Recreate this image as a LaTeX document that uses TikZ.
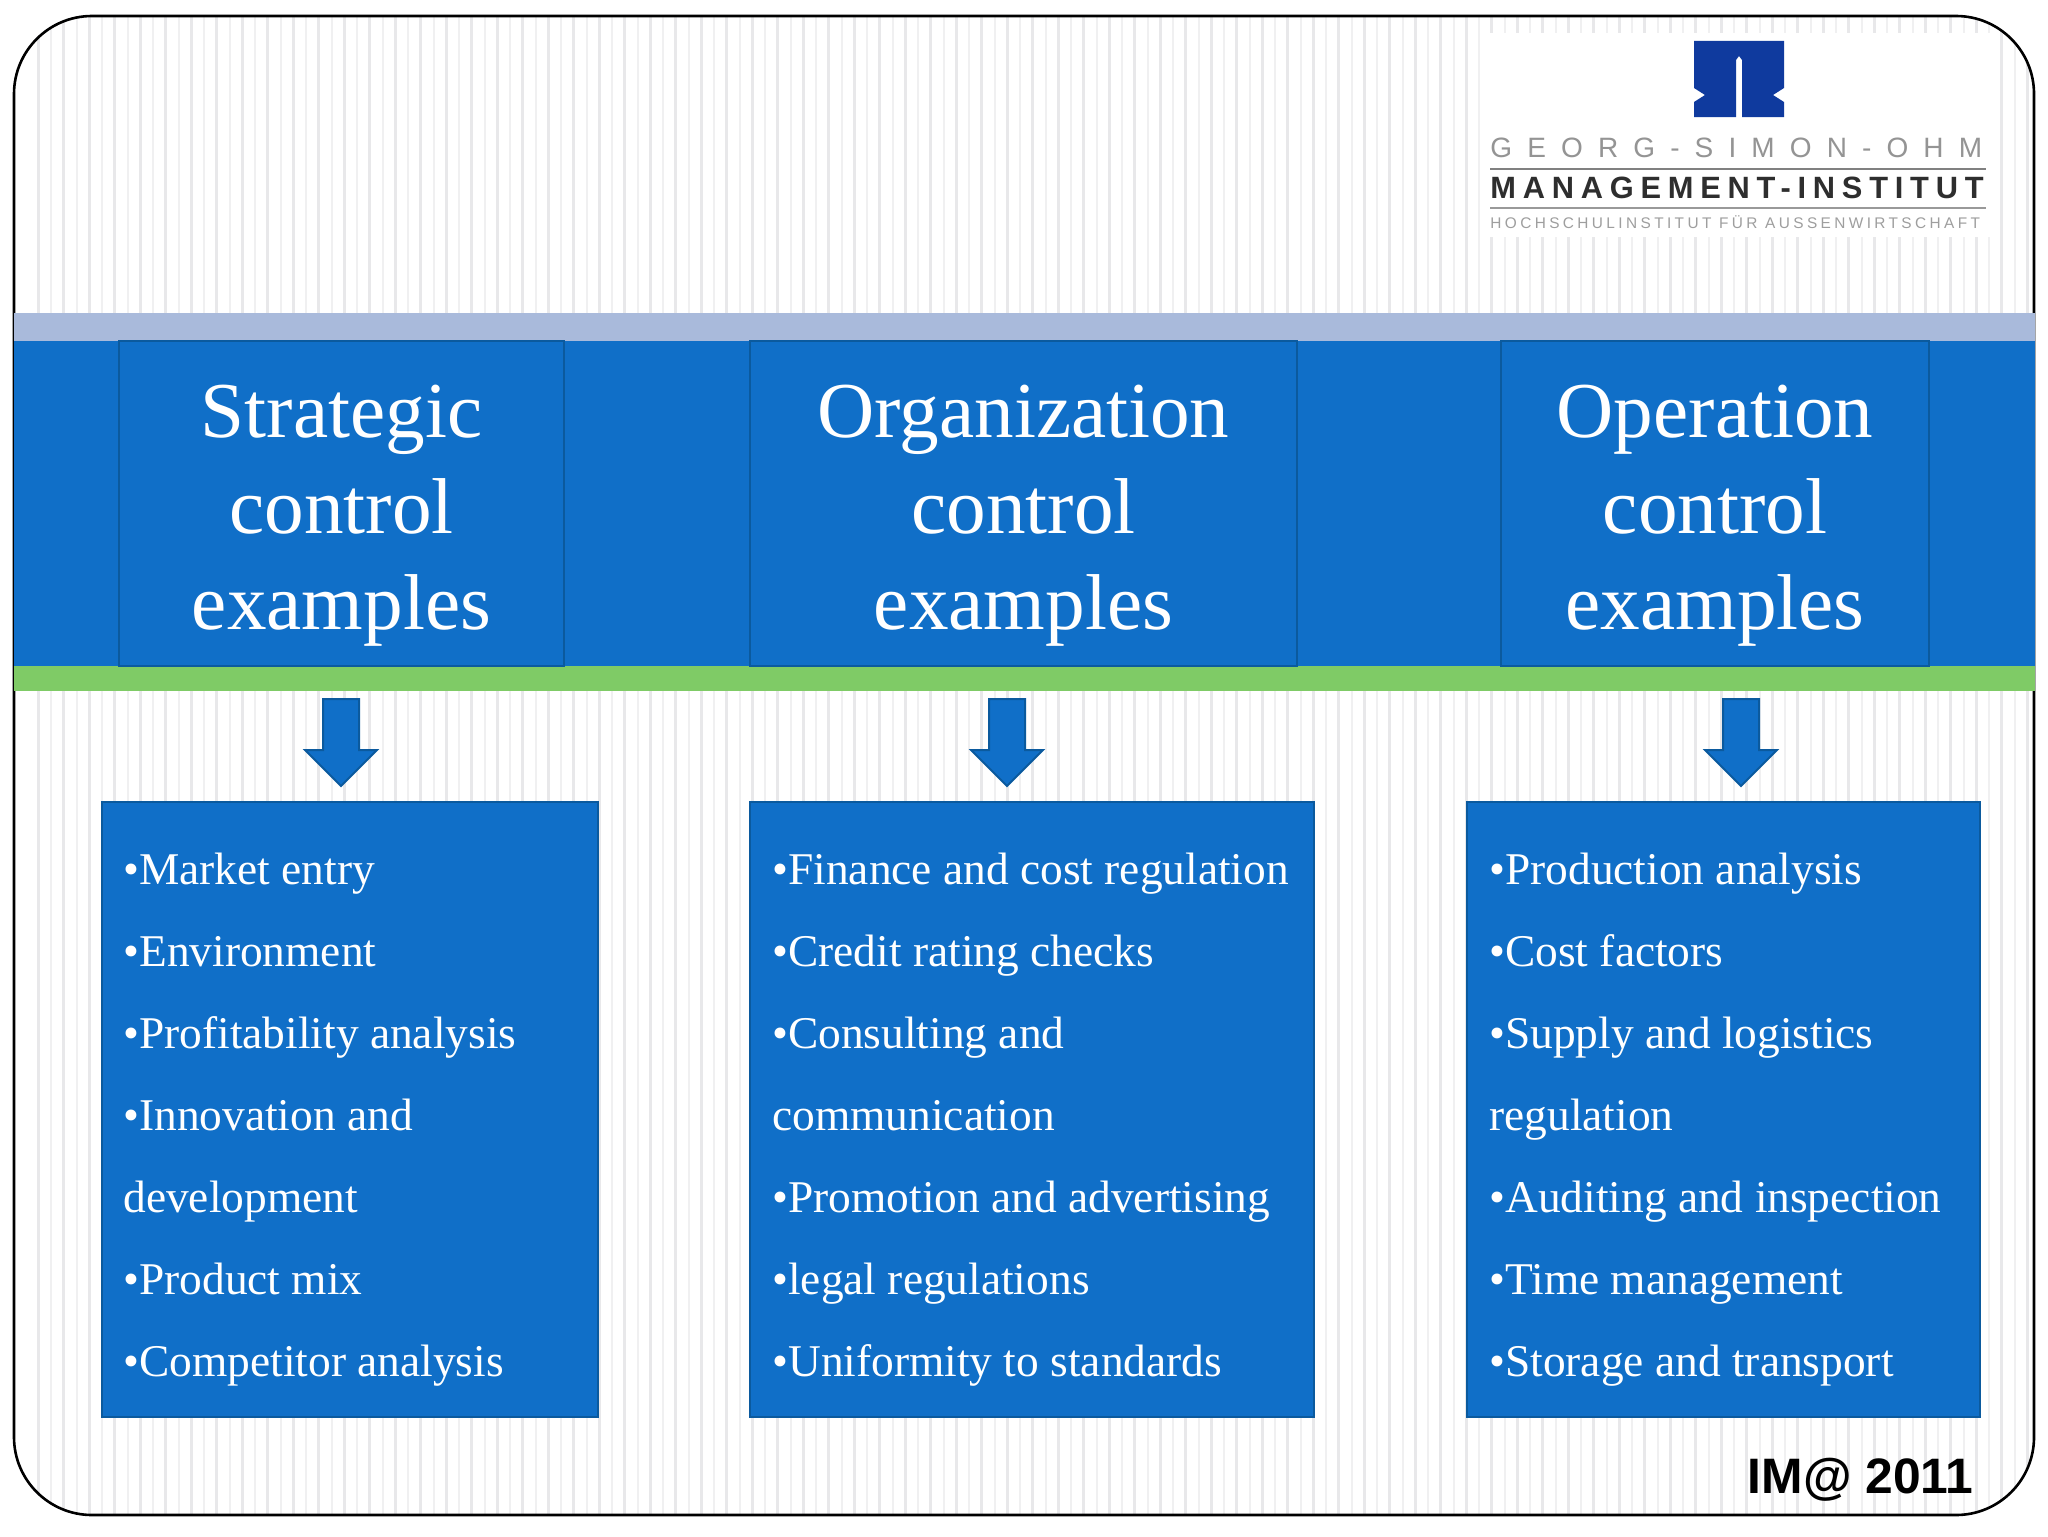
\documentclass[tikz,border=0pt]{standalone}
\usepackage{fontspec}
\setmainfont{Liberation Serif}
\newfontfamily\arialfont{Liberation Sans}
\definecolor{boxblue}{HTML}{106FC8}
\definecolor{boxedge}{HTML}{0B5A9E}
\definecolor{paleband}{HTML}{A9BADB}
\definecolor{greenband}{HTML}{7FCB66}
\definecolor{logoblue}{HTML}{0F3A9E}
\definecolor{stripea}{HTML}{E8E8EA}
\definecolor{stripeb}{HTML}{F0F0F1}
\tikzset{
  headbox/.style={draw=boxedge,line width=1pt,fill=boxblue,inner sep=0pt},
  headtext/.style={text=white,inner sep=0pt,align=center,
    font=\fontsize{39.6}{48}\selectfont},
  listbox/.style={draw=boxedge,line width=1pt,fill=boxblue,inner sep=0pt},
  listtext/.style={text=white,inner sep=0pt,align=left,anchor=north west,
    font=\fontsize{22.7}{41}\selectfont},
  downarrow/.style={draw=boxedge,line width=1pt,fill=boxblue,line join=miter},
  logotext/.style={inner sep=0pt,anchor=base west},
}
\newcommand{\DownArrowAt}[1]{%
  \draw[downarrow] (#1-18,699) -- (#1+18,699) -- (#1+18,750) -- (#1+36,750)
    -- (#1,786) -- (#1-36,750) -- (#1-18,750) -- cycle;}
\begin{document}
\begin{tikzpicture}[x=0.5pt,y=-0.5pt]
\useasboundingbox (0,0) rectangle (2048,1536);
\fill[white] (0,0) rectangle (2048,1536);
% striped background
\begin{scope}
  \clip[rounded corners=39pt] (14,16) rectangle (2034,1515);
  \foreach \k in {0,2,...,158}{
    \fill[stripea] ({38.3+12.75*\k-1.5},0) rectangle ({38.3+12.75*\k+1.5},1536);
    \fill[stripeb] ({51.05+12.75*\k-1},0) rectangle ({51.05+12.75*\k+1},1536);
  }
\end{scope}
\draw[black,line width=1.3pt,rounded corners=39pt] (14,16) rectangle (2034,1515);
% logo
\fill[white] (1480,33) rectangle (1998,237);
\fill[logoblue] (1694,41) -- (1784,41) -- (1784,88) -- (1773,95) -- (1784,102) -- (1784,117)
  -- (1742,117) -- (1742,60) -- (1739,56) -- (1736,60) -- (1736,117)
  -- (1694,117) -- (1694,102) -- (1705,95) -- (1694,88) -- cycle;
\node[logotext,text=black!42] (logoa) at (1490,157) {\arialfont\fontsize{14}{14}\selectfont\addfontfeature{LetterSpace=54}GEORG-SIMON-OHM};
\draw[black!50,line width=0.7pt] (1490,169) -- (1986,169);
\node[logotext,text=black!82] (logob) at (1490,198) {\arialfont\bfseries\fontsize{15.4}{15}\selectfont\addfontfeature{LetterSpace=22}MANAGEMENT-INSTITUT};
\draw[black!40,line width=0.7pt] (1490,208) -- (1986,208);
\node[logotext,text=black!38] (logoc) at (1490,228) {\arialfont\fontsize{7.7}{8}\selectfont\addfontfeature{LetterSpace=22}HOCHSCHULINSTITUT FÜR AUSSENWIRTSCHAFT};
% bands
\fill[paleband] (14,313) rectangle (2035,341);
\fill[boxblue] (14,341) rectangle (2035,666);
\fill[greenband] (14,666) rectangle (2035,691);
% header boxes
\node[headbox,minimum width=222.5pt,minimum height=162.5pt] (h1) at (341.5,503.5) {};
\node[headbox,minimum width=273.5pt,minimum height=162.5pt] (h2) at (1023.5,503.5) {};
\node[headbox,minimum width=214pt,minimum height=162.5pt] (h3) at (1715,503.5) {};
\node[headtext] (ht1) at ([yshift=-6.2pt]h1.center) {Strategic\\control\\examples};
\node[headtext] (ht2) at ([yshift=-6.2pt]h2.center) {Organization\\control\\examples};
\node[headtext] (ht3) at ([yshift=-6.2pt]h3.center) {Operation\\control\\examples};
% arrows
\DownArrowAt{341}
\DownArrowAt{1007}
\DownArrowAt{1741}
% list boxes
\node[listbox,minimum width=248pt,minimum height=307.5pt] (l1) at (350,1109.5) {};
\node[listbox,minimum width=282pt,minimum height=307.5pt] (l2) at (1032,1109.5) {};
\node[listbox,minimum width=256.5pt,minimum height=307.5pt] (l3) at (1723.5,1109.5) {};
\node[listtext] (t1) at (123,853) {•Market entry\\•Environment\\•Profitability analysis\\•Innovation and\\development\\•Product mix\\•Competitor analysis};
\node[listtext] (t2) at (772,853) {•Finance and cost regulation\\•Credit rating checks\\•Consulting and\\communication\\•Promotion and advertising\\•legal regulations\\•Uniformity to standards};
\node[listtext] (t3) at (1489,853) {•Production analysis\\•Cost factors\\•Supply and logistics\\regulation\\•Auditing and inspection\\•Time management\\•Storage and transport};
% footer
\node[inner sep=0pt,anchor=base east,text=black] (foot) at (1974,1493) {\arialfont\bfseries\fontsize{24.9}{25}\selectfont IM@ 2011};
\end{tikzpicture}
\end{document}
